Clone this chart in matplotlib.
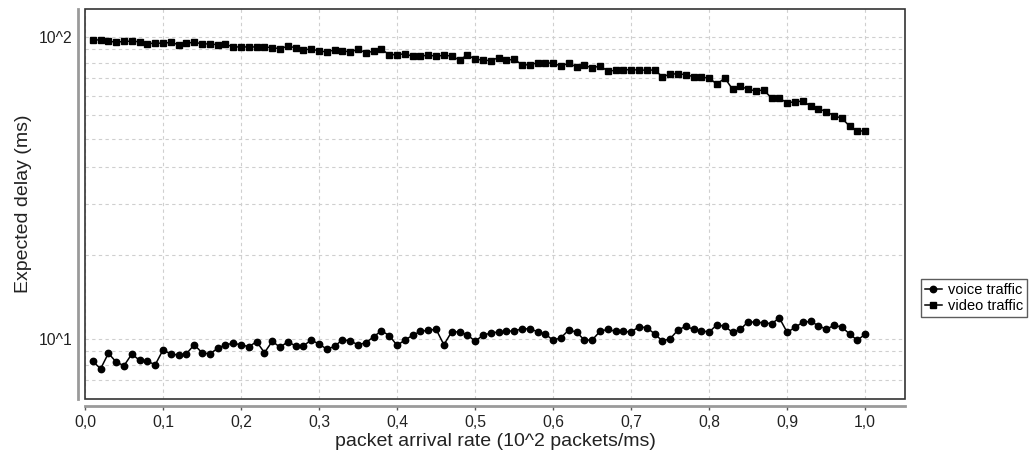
import matplotlib
matplotlib.use("Agg")
import matplotlib.pyplot as plt
from matplotlib.patches import Rectangle
from matplotlib.ticker import FixedLocator, NullFormatter, FuncFormatter
import numpy as np

plt.rcParams['font.family'] = ['Liberation Sans', 'DejaVu Sans']

# packet arrival rate, 0.01 .. 1.00
rate = [i / 100 for i in range(1, 101)]

voice = [8.44, 7.97, 8.97, 8.39, 8.16, 8.92, 8.50, 8.44, 8.22, 9.20,
         8.92, 8.85, 8.94, 9.57, 9.01, 8.92, 9.32, 9.57, 9.68, 9.57,
         9.43, 9.80, 9.01, 9.83, 9.39, 9.80, 9.48, 9.50, 9.92, 9.63,
         9.25, 9.46, 9.95, 9.85, 9.57, 9.72, 10.18, 10.65, 10.26, 9.53,
         9.92, 10.29, 10.60, 10.69, 10.77, 9.57, 10.57, 10.55, 10.33, 9.83,
         10.29, 10.47, 10.55, 10.60, 10.65, 10.79, 10.82, 10.57, 10.39, 9.90,
         10.10, 10.71, 10.55, 9.92, 9.92, 10.60, 10.77, 10.60, 10.60, 10.55,
         10.98, 10.90, 10.41, 9.85, 10.02, 10.71, 11.02, 10.77, 10.65, 10.55,
         11.15, 11.02, 10.52, 10.77, 11.41, 11.36, 11.32, 11.24, 11.74, 10.52,
         10.93, 11.36, 11.44, 11.07, 10.77, 11.10, 10.96, 10.39, 9.90, 10.39]

video = [97.5, 98.0, 97.0, 96.0, 96.8, 96.8, 96.5, 95.0, 95.5, 95.3,
         96.0, 94.3, 95.5, 96.0, 95.0, 94.8, 94.3, 94.6, 92.7, 92.7,
         92.7, 92.7, 92.7, 92.2, 91.5, 93.2, 92.2, 90.4, 91.5, 89.7,
         89.4, 90.6, 90.1, 89.2, 91.0, 88.7, 89.7, 91.0, 87.4, 87.4,
         88.0, 86.3, 86.3, 87.2, 86.3, 87.0, 86.5, 83.9, 87.2, 84.4,
         83.9, 83.5, 85.4, 83.7, 84.4, 81.0, 80.8, 82.2, 82.2, 81.8,
         80.2, 81.8, 79.7, 80.6, 79.0, 80.2, 77.2, 77.5, 77.9, 77.9,
         77.8, 77.6, 77.8, 73.9, 75.3, 75.6, 75.0, 73.9, 73.5, 73.2,
         69.7, 73.2, 67.1, 68.7, 67.1, 66.3, 66.8, 62.7, 62.7, 60.5,
         61.1, 61.3, 59.1, 57.9, 56.6, 54.9, 53.8, 50.7, 48.7, 49.0]

x_ticks = [i / 10 for i in range(11)]
grid_vals = [7.3, 8.2, 9.1, 10, 19, 28, 37, 46, 55, 64, 73, 82, 91, 100]

fig = plt.figure(figsize=(10.29, 4.55), dpi=100)
ax = fig.add_axes([85 / 1029, 1 - 399 / 455, 820 / 1029, 390 / 455])

ax.plot(rate, voice, color='black', lw=1.1, marker='o', ms=4.6,
        label='voice traffic', zorder=3)
ax.plot(rate, video, color='black', lw=1.1, marker='s', ms=4.4,
        label='video traffic', zorder=3)

ax.set_yscale('log')
ax.set_xlim(0, 1.051)
ax.set_ylim(6.33, 123.8)

ax.xaxis.set_major_locator(FixedLocator(x_ticks))
ax.xaxis.set_major_formatter(FuncFormatter(lambda v, p: ('%.1f' % v).replace('.', ',')))
ax.yaxis.set_major_locator(FixedLocator([10, 100]))
ax.yaxis.set_major_formatter(FuncFormatter(lambda v, p: '10^%d' % round(np.log10(v))))
ax.yaxis.set_minor_locator(FixedLocator(grid_vals))
ax.yaxis.set_minor_formatter(NullFormatter())
ax.yaxis.remove_overlapping_locs = False

ax.grid(True, which='major', axis='x', color='#cfcfcf', ls=(0, (3, 3)), lw=0.8)
ax.grid(True, which='minor', axis='y', color='#cfcfcf', ls=(0, (3, 3)), lw=0.8)
ax.set_axisbelow(True)

for s in ['top', 'right']:
    ax.spines[s].set_visible(False)
for s in ['left', 'bottom']:
    ax.spines[s].set_position(('outward', 5))
    ax.spines[s].set_color('#9a9a9a')
    ax.spines[s].set_linewidth(2)

ax.add_patch(Rectangle((0, 0), 1, 1, transform=ax.transAxes, fill=False,
                       ec='#333333', lw=1.2, clip_on=False, zorder=5))

ax.tick_params(axis='x', which='major', direction='out', length=3, width=1,
               color='#555555', labelsize=11.3, pad=3.5, labelcolor='#222222')
ax.tick_params(axis='y', which='both', length=0, labelsize=11.3, pad=4,
               labelcolor='#222222')

ax.set_xlabel('packet arrival rate (10^2 packets/ms)', fontsize=14,
              color='#222222', labelpad=2)
ax.set_ylabel('Expected delay (ms)', fontsize=14, color='#222222', labelpad=5)

fig.legend(loc='center left', bbox_to_anchor=(921 / 1029, 1 - 298 / 455),
           fontsize=10.5, frameon=True, fancybox=False, edgecolor='#333333',
           handlelength=1.2, handletextpad=0.4, borderpad=0.25,
           labelspacing=0.15, borderaxespad=0)

fig.savefig('out.png', dpi=100)
